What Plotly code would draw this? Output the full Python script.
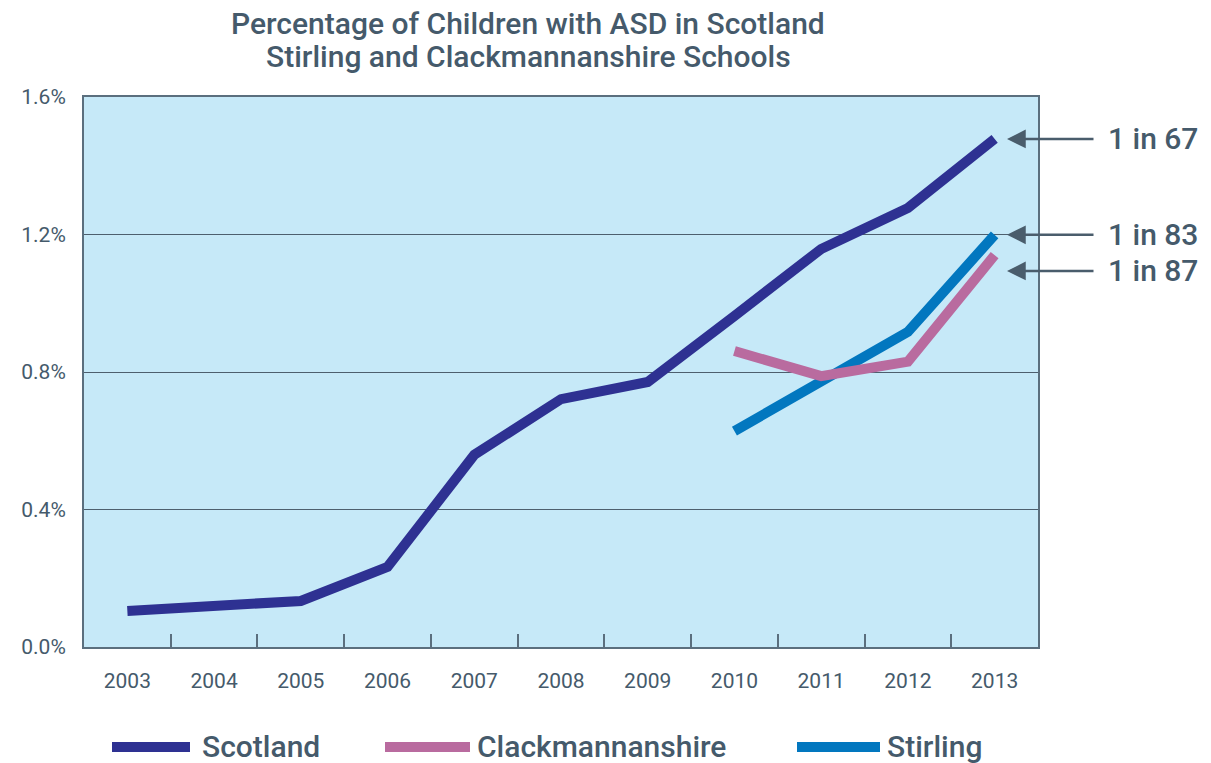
import plotly.graph_objects as go

years = ["2003", "2004", "2005", "2006", "2007", "2008", "2009", "2010", "2011", "2012", "2013"]
scotland = [0.105, 0.122, 0.134, 0.233, 0.559, 0.721, 0.771, 0.963, 1.158, 1.277, 1.478]
clack_years = ["2010", "2011", "2012", "2013"]
clackmannanshire = [0.861, 0.788, 0.830, 1.140]
stirling_years = ["2010", "2011", "2012", "2013"]
stirling = [0.628, 0.772, 0.917, 1.199]
ratio_labels = ["1 in 67", "1 in 83", "1 in 87"]
ratio_values = [1.478, 1.199, 1.094]
yticks = [0.0, 0.4, 0.8, 1.2, 1.6]
ytick_text = ["0.0%", "0.4%", "0.8%", "1.2%", "1.6%"]
title_lines = ["Percentage of Children with ASD in Scotland", "Stirling and Clackmannanshire Schools"]

series_names = ["Scotland", "Clackmannanshire", "Stirling"]
series_colors = {"Scotland": "#2e3192", "Clackmannanshire": "#b96b9f", "Stirling": "#0277bf"}

text_col = "#455a6b"
axis_col = "#5b6f7e"
font_family = "Roboto, 'DejaVu Sans', sans-serif"

W, H = 1211, 763
ML, MR, MT, MB = 84, 1211 - 1038, 97, 763 - 647
PW, PH = W - ML - MR, H - MT - MB


def px_x(p):
    return (p - ML) / PW


def px_y(p):
    return (H - MB - p) / PH


fig = go.Figure()
fig.add_trace(go.Scatter(x=years, y=scotland, mode="lines", name="Scotland",
                         line=dict(color=series_colors["Scotland"], width=10)))
fig.add_trace(go.Scatter(x=stirling_years, y=stirling, mode="lines", name="Stirling",
                         line=dict(color=series_colors["Stirling"], width=10)))
fig.add_trace(go.Scatter(x=clack_years, y=clackmannanshire, mode="lines", name="Clackmannanshire",
                         line=dict(color=series_colors["Clackmannanshire"], width=10)))

# ratio call-outs
for lab, val in zip(ratio_labels, ratio_values):
    fig.add_annotation(x=px_x(1007), xref="paper", y=val, yref="y", text="",
                       showarrow=True, ax=1095 - 1007, ay=0, axref="pixel", ayref="pixel",
                       arrowhead=2, arrowsize=1.5, arrowwidth=2.5, arrowcolor="#4a5d6c",
                       standoff=0)
    fig.add_annotation(x=px_x(1106), xref="paper", y=val, yref="y", text=lab, showarrow=False,
                       xanchor="left", yanchor="middle",
                       font=dict(size=30, color=text_col, family=font_family, weight=500))

# title (two lines)
for line, ymid in zip(title_lines, [23, 57]):
    fig.add_annotation(x=px_x(528), xref="paper", y=px_y(ymid), yref="paper", text=line,
                       showarrow=False, xanchor="center", yanchor="middle",
                       font=dict(size=30, color=text_col, family=font_family, weight=500))

# custom legend (long line swatches as in the reference)
legend_pos = {"Scotland": (112, 190, 200), "Clackmannanshire": (385, 470, 475), "Stirling": (797, 880, 885)}
for name in series_names:
    x0, x1, xt = legend_pos[name]
    fig.add_shape(type="line", xref="paper", yref="paper", x0=px_x(x0), x1=px_x(x1),
                  y0=px_y(747), y1=px_y(747), line=dict(color=series_colors[name], width=10))
    fig.add_annotation(x=px_x(xt), xref="paper", y=px_y(746), yref="paper", text=name,
                       showarrow=False, xanchor="left", yanchor="middle",
                       font=dict(size=30, color=text_col, family=font_family, weight=500))

fig.update_layout(
    width=W, height=H,
    margin=dict(l=ML, r=MR, t=MT, b=MB, autoexpand=False),
    paper_bgcolor="white", plot_bgcolor="#c6e9f8",
    font=dict(family=font_family, color=text_col),
    showlegend=False,
)
fig.update_xaxes(type="category", categoryorder="array", categoryarray=years, range=[-0.5, 10.5],
                 showline=True, linecolor=axis_col, linewidth=2, mirror=True,
                 ticks="inside", tickson="boundaries", ticklen=13, tickcolor=axis_col, tickwidth=1.5,
                 showgrid=False, tickfont=dict(size=21, color=text_col),
                 ticklabelstandoff=14, automargin=False)
fig.update_yaxes(range=[0, 1.6], tickvals=yticks, ticktext=ytick_text,
                 showline=True, linecolor=axis_col, linewidth=2, mirror=True,
                 showgrid=True, gridcolor="#4d5f6e", gridwidth=1.2, zeroline=False,
                 ticks="", tickfont=dict(size=21, color=text_col), ticklabelstandoff=12,
                 automargin=False)

# remove the browser's default 8px body margin so the figure fills the window
fig.write_html("out.html", config={"displayModeBar": False},
               post_script="document.body.style.margin='0';")
